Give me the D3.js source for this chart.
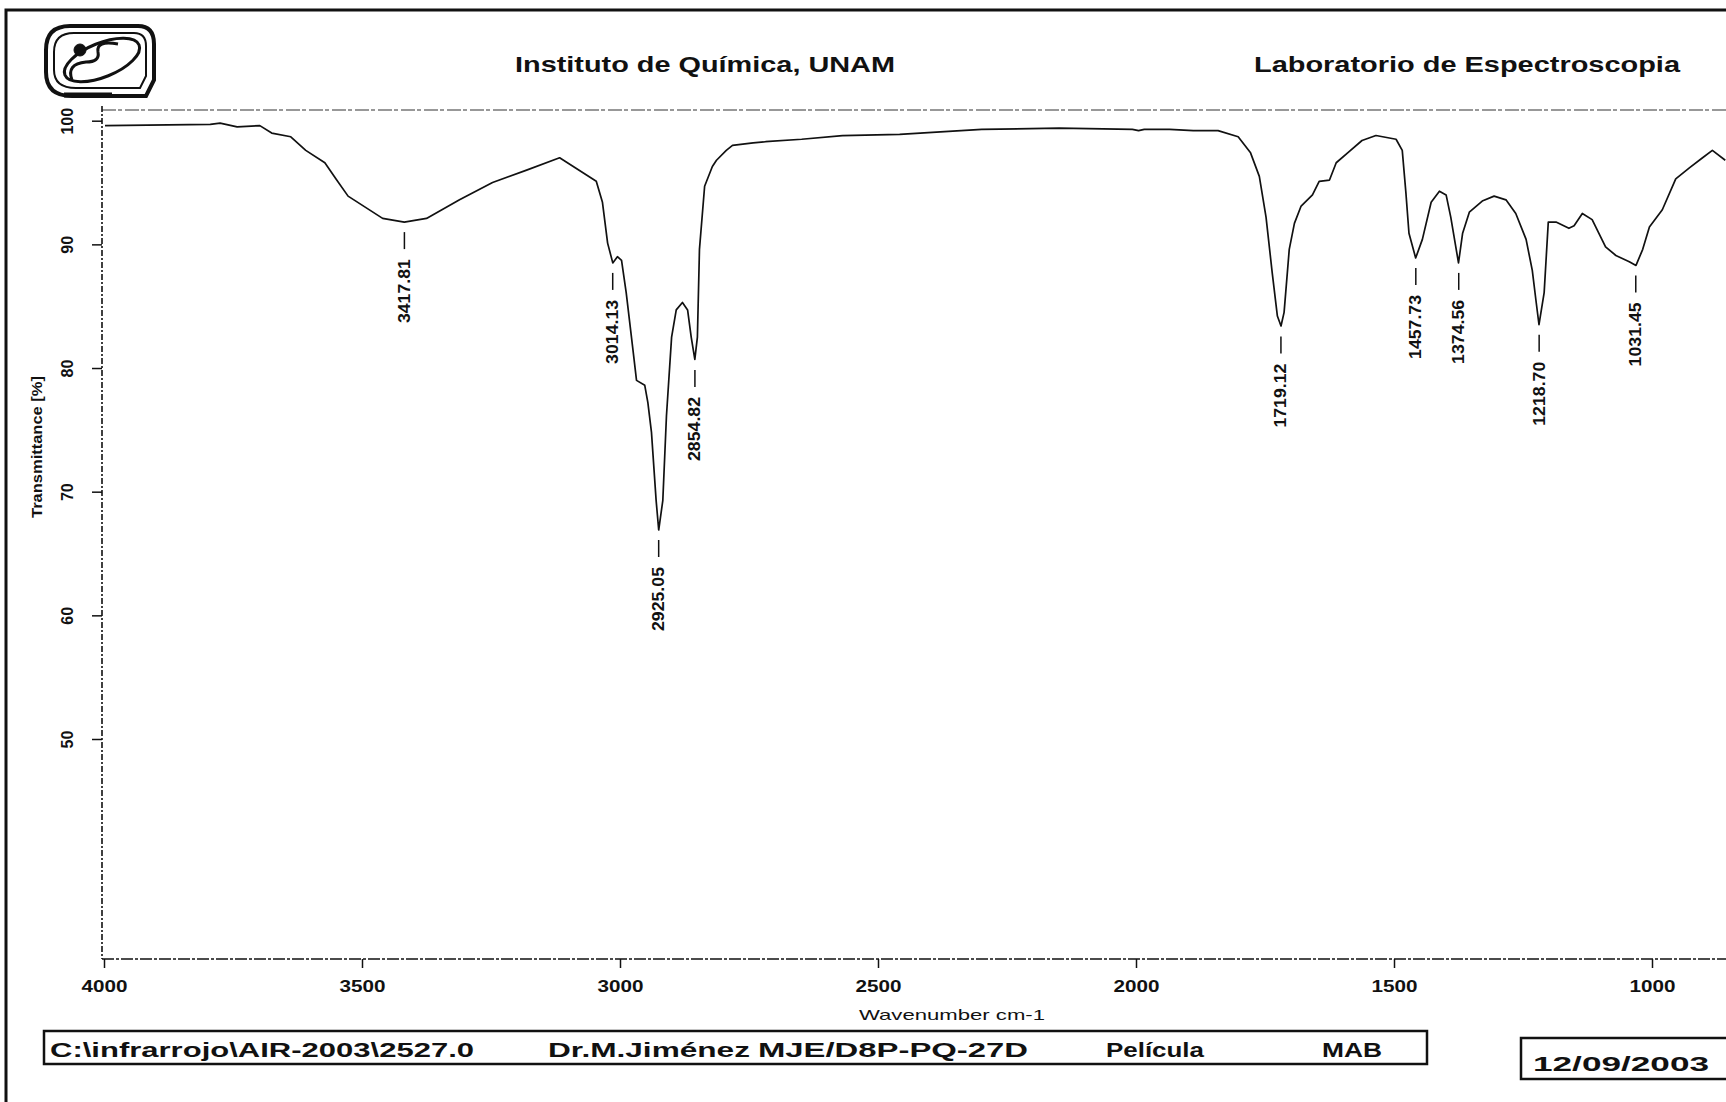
<!DOCTYPE html>
<html>
<head>
<meta charset="utf-8">
<script src="https://cdn.jsdelivr.net/npm/d3@7"></script>
<style>
  body { margin: 0; background: #fff; }
  svg { display: block; font-family: "Liberation Sans", Arial, sans-serif; }
</style>
</head>
<body>
<div id="chart"></div>
<script>
// IR trace (cm-1 / %T)
let wavenumbers = [3998, 3794, 3775, 3742, 3698, 3675, 3638, 3609, 3572, 3549, 3527, 3460, 3418, 3375, 3311, 3247, 3181, 3117, 3046, 3034,
    3024, 3014, 3005, 2997, 2988, 2975, 2968, 2952, 2946, 2939, 2930, 2925, 2917, 2910, 2900, 2891, 2879, 2869, 2862, 2855,
    2850, 2846, 2836, 2821, 2813, 2794, 2782, 2742, 2718, 2648, 2569, 2458, 2379, 2299, 2149, 2007, 1995, 1984, 1935, 1889,
    1841, 1802, 1778, 1761, 1748, 1736, 1726, 1719, 1713, 1703, 1693, 1680, 1658, 1645, 1625, 1612, 1587, 1562, 1535, 1496,
    1484, 1477, 1471, 1458, 1445, 1428, 1412, 1399, 1390, 1375, 1367, 1354, 1329, 1306, 1283, 1264, 1244, 1232, 1225, 1219,
    1209, 1201, 1186, 1161, 1151, 1135, 1116, 1090, 1070, 1044, 1031, 1018, 1005, 980, 954, 927, 902, 883, 858];
let transmittance = [99.6, 99.7, 99.8, 99.5, 99.6, 99.0, 98.7, 97.6, 96.6, 95.2, 93.9, 92.1, 91.8, 92.1, 93.6, 95.0, 96.0, 97.0, 95.1, 93.4,
    90.1, 88.5, 89.0, 88.7, 86.1, 81.5, 79.0, 78.6, 77.2, 74.8, 69.3, 66.9, 69.3, 76.1, 82.5, 84.7, 85.3, 84.7, 82.5, 80.7,
    82.5, 89.6, 94.7, 96.3, 96.8, 97.6, 98.0, 98.2, 98.3, 98.5, 98.8, 98.9, 99.1, 99.3, 99.4, 99.3, 99.2, 99.3, 99.3, 99.2,
    99.2, 98.7, 97.4, 95.5, 92.2, 87.7, 84.2, 83.4, 84.5, 89.6, 91.7, 93.1, 94.0, 95.1, 95.2, 96.6, 97.5, 98.4, 98.8, 98.5,
    97.6, 94.2, 90.9, 88.9, 90.4, 93.4, 94.3, 94.0, 92.2, 88.5, 90.9, 92.6, 93.5, 93.9, 93.6, 92.5, 90.4, 87.9, 85.5, 83.5,
    86.1, 91.8, 91.8, 91.3, 91.5, 92.5, 92.0, 89.8, 89.1, 88.6, 88.3, 89.6, 91.4, 92.8, 95.3, 96.2, 97.0, 97.6, 96.8];

// picked peaks
let peakWavenumbers = [3417.81, 3014.13, 2925.05, 2854.82, 1719.12, 1457.73, 1374.56, 1218.70, 1031.45];
let peakTransmittance = [91.8, 88.5, 66.9, 80.65, 83.35, 88.9, 88.5, 83.5, 88.3];
let peakLabels = ["3417.81", "3014.13", "2925.05", "2854.82", "1719.12", "1457.73", "1374.56", "1218.70", "1031.45"];

let xTicks = [4000, 3500, 3000, 2500, 2000, 1500, 1000];
let yTicks = [100, 90, 80, 70, 60, 50];

let headerTexts = ["Instituto de Química, UNAM", "Laboratorio de Espectroscopia"];
let footerTexts = ["C:\\infrarrojo\\AIR-2003\\2527.0", "Dr.M.Jiménez", "MJE/D8P-PQ-27D", "Película", "MAB"];
let dateText = "12/09/2003";

let width = 1726, height = 1102;
let plotLeft = 102, plotTop = 110, plotBottom = 959;

let svg = d3.select("#chart").append("svg")
    .attr("width", width).attr("height", height);
svg.append("rect").attr("width", width).attr("height", height).attr("fill", "#fff");

let x = d3.scaleLinear().domain([4000, 1000]).range([104, 1652]);
let y = d3.scaleLinear().domain([50, 100]).range([739, 120.7]);

// page frame (cut off at right and bottom by the scan)
svg.append("path")
    .attr("d", "M" + width + ",10 H6 V" + height)
    .attr("fill", "none").attr("stroke", "#111").attr("stroke-width", 3);

// logo, roughly
let logo = svg.append("g").attr("fill", "none").attr("stroke", "#111");
logo.append("path").attr("stroke-width", 4)
    .attr("d", "M70,26 H138 Q154,26 154,44 V80 L146,96 H72 Q46,96 46,72 V50 Q46,26 70,26 Z");
logo.append("path").attr("stroke-width", 2)
    .attr("d", "M74,33 H134 Q146,33 146,46 V76 L140,88 H76 Q54,88 54,70 V52 Q54,33 74,33 Z");
logo.append("ellipse").attr("cx", 102).attr("cy", 60).attr("rx", 40).attr("ry", 17)
    .attr("transform", "rotate(-22,102,60)").attr("stroke-width", 3);
logo.append("path").attr("stroke-width", 3)
    .attr("d", "M72,80 Q66,64 86,62 Q100,62 98,52 Q96,40 118,44");
logo.append("circle").attr("cx", 80).attr("cy", 50).attr("r", 6).attr("fill", "#111");
logo.append("path").attr("stroke-width", 5).attr("d", "M64,95 H112");

// header
svg.append("text").attr("x", 515).attr("y", 72)
    .attr("font-size", 22).attr("font-weight", "bold").attr("fill", "#111")
    .attr("textLength", 380).attr("lengthAdjust", "spacingAndGlyphs")
    .text(headerTexts[0]);
svg.append("text").attr("x", 1254).attr("y", 72)
    .attr("font-size", 22).attr("font-weight", "bold").attr("fill", "#111")
    .attr("textLength", 426).attr("lengthAdjust", "spacingAndGlyphs")
    .text(headerTexts[1]);

// plot frame lines
svg.append("line").attr("x1", plotLeft).attr("x2", width).attr("y1", plotTop).attr("y2", plotTop)
    .attr("stroke", "#777").attr("stroke-width", 1.5).attr("stroke-dasharray", "14 2 4 3");

let xAxis = d3.axisBottom(x).tickValues(xTicks).tickFormat(d3.format("d"))
    .tickSize(9).tickSizeOuter(0).tickPadding(12);
let xGroup = svg.append("g").attr("transform", "translate(0," + plotBottom + ")").call(xAxis);
xGroup.select(".domain").remove();
xGroup.selectAll("line").attr("stroke", "#111").attr("stroke-width", 1.5);
xGroup.selectAll("text")
    .attr("font-size", 17).attr("font-weight", "bold").attr("fill", "#111")
    .attr("font-family", "Liberation Sans, Arial, sans-serif")
    .attr("textLength", 46).attr("lengthAdjust", "spacingAndGlyphs");
svg.append("line").attr("x1", plotLeft).attr("x2", width).attr("y1", plotBottom).attr("y2", plotBottom)
    .attr("stroke", "#111").attr("stroke-width", 1.6).attr("stroke-dasharray", "12 2 3 2");

let yAxis = d3.axisLeft(y).tickValues(yTicks).tickSize(10).tickSizeOuter(0);
let yGroup = svg.append("g").attr("transform", "translate(" + plotLeft + ",0)").call(yAxis);
yGroup.select(".domain").remove();
yGroup.selectAll("line").attr("stroke", "#111").attr("stroke-width", 1.5);
yGroup.selectAll("text")
    .attr("x", null).attr("dy", null).attr("y", null)
    .attr("text-anchor", "middle").attr("dominant-baseline", "central")
    .attr("transform", "translate(-35,0) rotate(-90)")
    .attr("font-size", 16).attr("font-weight", "bold").attr("fill", "#111")
    .attr("font-family", "Liberation Sans, Arial, sans-serif");
svg.append("line").attr("x1", plotLeft).attr("x2", plotLeft).attr("y1", plotTop - 4).attr("y2", plotBottom)
    .attr("stroke", "#111").attr("stroke-width", 1.6).attr("stroke-dasharray", "6 2 2 2");

// axis titles
svg.append("text").attr("x", 952).attr("y", 1020).attr("text-anchor", "middle")
    .attr("font-size", 15).attr("fill", "#111")
    .attr("textLength", 186).attr("lengthAdjust", "spacingAndGlyphs")
    .text("Wavenumber cm-1");
svg.append("text").attr("transform", "translate(36,447) rotate(-90)")
    .attr("text-anchor", "middle").attr("dominant-baseline", "central")
    .attr("font-size", 15).attr("font-weight", "bold").attr("fill", "#111")
    .attr("textLength", 142).attr("lengthAdjust", "spacingAndGlyphs")
    .text("Transmittance [%]");

// spectrum
let spectrum = wavenumbers.map((w, i) => ({ w: w, t: transmittance[i] }));
let line = d3.line().x(d => x(d.w)).y(d => y(d.t));
svg.append("path").datum(spectrum)
    .attr("fill", "none").attr("stroke", "#111").attr("stroke-width", 1.7)
    .attr("stroke-linejoin", "round")
    .attr("d", line);

// peak annotations
let peaks = peakWavenumbers.map((w, i) => ({ w: w, t: peakTransmittance[i], label: peakLabels[i] }));
let peakG = svg.append("g").selectAll("g").data(peaks).join("g")
    .attr("transform", d => "translate(" + x(d.w) + "," + y(d.t) + ")");
peakG.append("line").attr("y1", 10).attr("y2", 27).attr("stroke", "#111").attr("stroke-width", 1.5);
peakG.append("text").attr("transform", "translate(0,37) rotate(-90)")
    .attr("text-anchor", "end").attr("dominant-baseline", "central")
    .attr("font-size", 17).attr("font-weight", "bold").attr("fill", "#111")
    .attr("textLength", 64).attr("lengthAdjust", "spacingAndGlyphs")
    .text(d => d.label);

// footer boxes
svg.append("rect").attr("x", 44).attr("y", 1031).attr("width", 1383).attr("height", 33)
    .attr("fill", "none").attr("stroke", "#111").attr("stroke-width", 2.5);
let footerX = [50, 548, 758, 1106, 1322];
let footerW = [424, 202, 270, 98, 60];
svg.append("g").selectAll("text").data(footerTexts).join("text")
    .attr("x", (d, i) => footerX[i]).attr("y", 1057)
    .attr("font-size", 21).attr("font-weight", "bold").attr("fill", "#111")
    .attr("textLength", (d, i) => footerW[i]).attr("lengthAdjust", "spacingAndGlyphs")
    .text(d => d);
svg.append("rect").attr("x", 1521).attr("y", 1038).attr("width", 240).attr("height", 41)
    .attr("fill", "none").attr("stroke", "#111").attr("stroke-width", 2.5);
svg.append("text").attr("x", 1533).attr("y", 1071)
    .attr("font-size", 21).attr("font-weight", "bold").attr("fill", "#111")
    .attr("textLength", 176).attr("lengthAdjust", "spacingAndGlyphs")
    .text(dateText);
</script>
</body>
</html>
